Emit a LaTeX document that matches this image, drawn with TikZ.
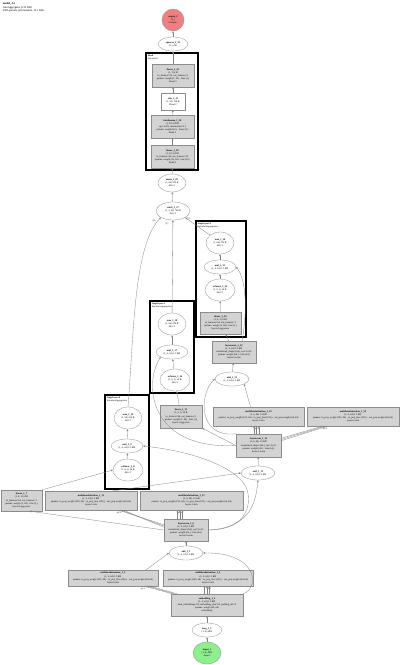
\documentclass[tikz,border=0pt]{standalone}
\usepackage{fontspec}
\setmainfont{Liberation Serif}
\usepackage{tikz}
\usetikzlibrary{arrows.meta,calc,shapes.geometric}
\definecolor{graphfill}{HTML}{D3D3D3}
\definecolor{graphline}{HTML}{8C8C8C}
\definecolor{graphedge}{HTML}{808080}
\definecolor{outred}{HTML}{F08080}
\definecolor{ingreen}{HTML}{90EE90}
\newcommand{\gfont}{\fontsize{2.45}{3.1}\selectfont}

\begin{document}
\begin{tikzpicture}[x=1pt, y=-1pt,
  font=\gfont,
  sz/.style 2 args={minimum width=#1pt, minimum height=#2pt},
  box/.style={draw=graphline, fill=graphfill, line width=0.3pt, align=center, inner sep=0.5pt},
  wbox/.style={box, fill=white},
  op/.style={ellipse, draw=graphline, fill=white, line width=0.3pt, align=center, inner sep=0pt},
  stage/.style={draw=black, line width=1.3pt},
  ttl/.style={anchor=north west, align=left, inner sep=0.6pt, font=\fontsize{2.3}{2.7}\selectfont},
  arr/.style={-{Stealth[length=2.2pt, width=1.8pt]}, draw=graphedge, line width=0.3pt},
  elbl/.style={inner sep=0.2pt, font=\fontsize{2.2}{2.6}\selectfont}
]
\fill[white, use as bounding box] (0,0) rectangle (400,665);

\node[ttl, font=\fontsize{2.8}{3.3}\selectfont] (hdr) at (2,2) {\textbf{model\_A1}\\AttnAggregator (213 KB)\\2385 params (all trainable, 10.1 KB)};

% stage frames
\draw[stage] (146,53) rectangle (198,170);
\node[ttl] (headttl) at (147,54) {\textbf{Head}\\Sequential};
\draw[stage] (196,221) rectangle (246,337);
\node[ttl] (l2ttl) at (197,222) {\textbf{Stage layers.2}\\AttentionAggregation};
\draw[stage] (150,301) rectangle (194,393);
\node[ttl] (l1ttl) at (151,302) {\textbf{Stage layers.1}\\AttentionAggregation};
\draw[stage] (105,395) rectangle (149,489);
\node[ttl] (l0ttl) at (106,396) {\textbf{Stage layers.0}\\AttentionAggregation};

% head
\node[op, circle, fill=outred, minimum size=22pt] (out2) at (173,20) {\textbf{output\_2}\\(1,)\\\textless Output\textgreater};
\node[op, sz={30}{14}] (sq33) at (173,44) {\textbf{squeeze\_1\_33}\\(1,) 4 B};
\node[box, sz={42}{23}] (lin32) at (173,75.5) {\textbf{linear\_1\_32}\\(1, 1) 4 B\\in\_features=32, out\_features=1\\params: weight (1, 32) · bias (1,)\\Head.3};
\node[wbox, sz={24}{17}] (relu31) at (173,101.5) {\textbf{relu\_1\_31}\\(1, 32) 128 B\\Head.2};
\node[box, sz={43}{23}] (bn30) at (172.5,126.5) {\textbf{batchnorm\_1\_30}\\(1, 32) 128 B\\eps=1e-05, momentum=0.1\\params: weight (32,) · bias (32,)\\Head.1};
\node[box, sz={43}{23}] (lin29) at (172.5,156.5) {\textbf{linear\_1\_29}\\(1, 32) 128 B\\in\_features=64, out\_features=32\\params: weight (32, 64) · bias (32,)\\Head.0};
\node[op, sz={28}{18}] (mean28) at (172,183) {\textbf{mean\_1\_28}\\(1, 64) 256 B\\dim=1};
\node[op, sz={34}{18}] (stack27) at (173,211) {\textbf{stack\_1\_27}\\(1, 3, 64) 768 B\\dim=1};

% layers.2
\node[op, sz={28}{22}] (sum26) at (220,243) {\textbf{sum\_1\_26}\\(1, 64) 256 B\\dim=1};
\node[op, sz={32}{14}] (mul25) at (220,267) {\textbf{mul\_1\_25}\\(1, 6, 64) 1.5 KB};
\node[op, sz={30}{22}] (smax24) at (220,290) {\textbf{softmax\_1\_24}\\(1, 6, 1) 24 B\\dim=1};
\node[box, sz={41}{22}] (lin23) at (220.5,323) {\textbf{linear\_1\_23}\\(1, 6, 1) 24 B\\in\_features=64, out\_features=1\\params: weight (1, 64) · bias (1,)\\layers.2.agg.score};
\node[box, sz={44}{22}] (ln22) at (234,352) {\textbf{layernorm\_1\_22}\\(1, 6, 64) 1.5 KB\\normalized\_shape=(64,), eps=1e-05\\params: weight (64,) · bias (64,)\\layers.2.norm};
\node[op, sz={34}{14}] (add21) at (232,379) {\textbf{add\_1\_21}\\(1, 6, 64) 1.5 KB};
\node[box, sz={91}{19}] (attn19) at (258.5,416.5) {\textbf{multiheadattention\_1\_19}\\(1, 6, 64) 1.5 KB\\params: in\_proj\_weight (192, 64) · in\_proj\_bias (192,) · out\_proj.weight (64, 64)\\layers.2.attn};
\node[box, sz={92}{19}] (attn20) at (353,416.5) {\textbf{multiheadattention\_1\_20}\\(1, 6, 64) 1.5 KB\\params: in\_proj\_weight (192, 64) · in\_proj\_bias (192,) · out\_proj.weight (64, 64)\\layers.2.attn};

% layers.1
\node[op, sz={28}{22}] (sum18) at (172,324) {\textbf{sum\_1\_18}\\(1, 64) 256 B\\dim=1};
\node[op, sz={32}{14}] (mul17) at (172,352) {\textbf{mul\_1\_17}\\(1, 6, 64) 1.5 KB};
\node[op, sz={30}{22}] (smax16) at (175,380) {\textbf{softmax\_1\_16}\\(1, 6, 1) 24 B\\dim=1};
\node[box, sz={42}{23}] (lin15) at (181,416.5) {\textbf{linear\_1\_15}\\(1, 6, 1) 24 B\\in\_features=64, out\_features=1\\params: weight (1, 64) · bias (1,)\\layers.1.agg.score};
\node[box, sz={45}{23}] (ln14) at (258.5,445.5) {\textbf{layernorm\_1\_14}\\(1, 6, 64) 1.5 KB\\normalized\_shape=(64,), eps=1e-05\\params: weight (64,) · bias (64,)\\layers.1.norm};
\node[op, sz={34}{14}] (add13) at (258,473) {\textbf{add\_1\_13}\\(1, 6, 64) 1.5 KB};
\node[box, sz={92}{19}] (attn11) at (91,500.5) {\textbf{multiheadattention\_1\_11}\\(1, 6, 64) 1.5 KB\\params: in\_proj\_weight (192, 64) · in\_proj\_bias (192,) · out\_proj.weight (64, 64)\\layers.1.attn};
\node[box, sz={103}{19}] (attn12) at (191.5,500.5) {\textbf{multiheadattention\_1\_12}\\(1, 6, 64) 1.5 KB\\params: in\_proj\_weight (192, 64) · in\_proj\_bias (192,) · out\_proj.weight (64, 64)\\layers.1.attn};

% layers.0
\node[op, sz={28}{22}] (sum10) at (128,418) {\textbf{sum\_1\_10}\\(1, 64) 256 B\\dim=1};
\node[op, sz={32}{14}] (mul9) at (127,446) {\textbf{mul\_1\_9}\\(1, 6, 64) 1.5 KB};
\node[op, sz={30}{22}] (smax8) at (128,470) {\textbf{softmax\_1\_8}\\(1, 6, 1) 24 B\\dim=1};
\node[box, sz={41}{21}] (lin7) at (21.5,500.5) {\textbf{linear\_1\_7}\\(1, 6, 1) 24 B\\in\_features=64, out\_features=1\\params: weight (1, 64) · bias (1,)\\layers.0.agg.score};
\node[box, sz={44}{22}] (ln6) at (186,530) {\textbf{layernorm\_1\_6}\\(1, 6, 64) 1.5 KB\\normalized\_shape=(64,), eps=1e-05\\params: weight (64,) · bias (64,)\\layers.0.norm};
\node[op, sz={34}{14}] (add5) at (186,553) {\textbf{add\_1\_5}\\(1, 6, 64) 1.5 KB};
\node[box, sz={90}{16}] (attn3) at (113,578) {\textbf{multiheadattention\_1\_3}\\(1, 6, 64) 1.5 KB\\params: in\_proj\_weight (192, 64) · in\_proj\_bias (192,) · out\_proj.weight (64, 64)\\layers.0.attn};
\node[box, sz={90}{16}] (attn4) at (208,578) {\textbf{multiheadattention\_1\_4}\\(1, 6, 64) 1.5 KB\\params: in\_proj\_weight (192, 64) · in\_proj\_bias (192,) · out\_proj.weight (64, 64)\\layers.0.attn};
\node[box, sz={72}{22}] (emb2) at (207,605) {\textbf{embedding\_1\_2}\\(1, 6, 64) 1.5 KB\\num\_embeddings=20, embedding\_dim=64, padding\_idx=0\\params: weight (20, 64)\\embedding};
\node[op, sz={30}{14}] (long1) at (207,630) {\textbf{long\_1\_1}\\(1, 6) 48 B};
\node[op, fill=ingreen, sz={28}{22}] (input1) at (207,653) {\textbf{input\_1}\\(1, 6) 48 B\\\textless Input\textgreater};

% edge labels
\node[elbl] (k0) at (154,221) {[0]};
\node[elbl] (k1) at (167,224) {[1]};
\node[elbl] (k2) at (189,219) {[2]};
\node[elbl] (q3) at (143,588.5) {q k v};
\node[elbl] (q4) at (209,588.5) {q k v};
\node[elbl] (q11) at (119,512.5) {q k v};
\node[elbl] (q12) at (180,512.5) {q k v};
\node[elbl] (q19) at (257,428.5) {q k v};
\node[elbl] (q20) at (325,428.5) {q k v};

% straight hops
\foreach \a/\b in {input1/long1, long1/emb2, add5/ln6, smax8/mul9, mul9/sum10, add13/ln14,
  lin15/smax16, smax16/mul17, mul17/sum18, sum18/stack27, add21/ln22, ln22/lin23, lin23/smax24,
  smax24/mul25, mul25/sum26, stack27/mean28, mean28/lin29, lin29/bn30, bn30/relu31,
  relu31/lin32, lin32/sq33, sq33/out2}
  \draw[arr] (\a) -- (\b);

% q/k/v bundles into the attention blocks
\foreach \d in {-2.5,0,2.5} {
  \draw[arr] ($(emb2.north west)+(4+\d,0)$) -- ($(attn3.south east)+(-11+\d,0)$);
  \draw[arr] ($(emb2.north)+(\d,0)$) -- ($(attn4.south)+(-1+\d,0)$);
  \draw[arr] ($(ln6.west)+(0,-4+0.5*\d)$) -- ($(attn11.south)+(30+\d,0)$);
  \draw[arr] ($(ln6.north)+(-6+\d,0)$) -- ($(attn12.south)+(-11.5+\d,0)$);
  \draw[arr] ($(ln14.north)+(-2+\d,0)$) -- ($(attn19.south)+(-2+\d,0)$);
  \draw[arr] ($(ln14.east)+(0,-6+0.5*\d)$) -- ($(attn20.south)+(-28+\d,0)$);
}

% residuals and side inputs
\draw[arr] (emb2.north east) .. controls (260,588) and (258,552) .. (add5.east);
\draw[arr] ($(attn3.north)+(33,0)$) -- (add5.west);
\draw[arr] (ln6.west) -- ($(lin7.south)+(8,0)$);
\draw[arr] (lin7.north east) -- (smax8.west);
\draw[arr] (ln6.east) .. controls (252,528) and (256,500) .. (add13.south);
\draw[arr] (ln6.east) .. controls (250,530) and (252,500) .. (246,487) .. controls (238,470) and (200,452) .. (mul9.east);
\draw[arr] ($(attn11.north)+(22,0)$) -- (add13.west);
\draw[arr] (sum10.north) .. controls (134,330) and (134,245) .. (stack27.south west);
\draw[arr] (ln14.west) -- (lin15.south east);
\draw[arr] (ln14.west) .. controls (150,450) and (143,385) .. (mul17.south west);
\draw[arr] (ln14.north west) .. controls (196,438) and (200,392) .. (add21.west);
\draw[arr] ($(attn19.north)+(-8,0)$) -- (add21.south east);
\draw[arr] ($(ln22.north)+(8,0)$) .. controls (247,315) and (247,280) .. (mul25.east);
\draw[arr] (sum26.north west) -- (stack27.south east);
\end{tikzpicture}
\end{document}
